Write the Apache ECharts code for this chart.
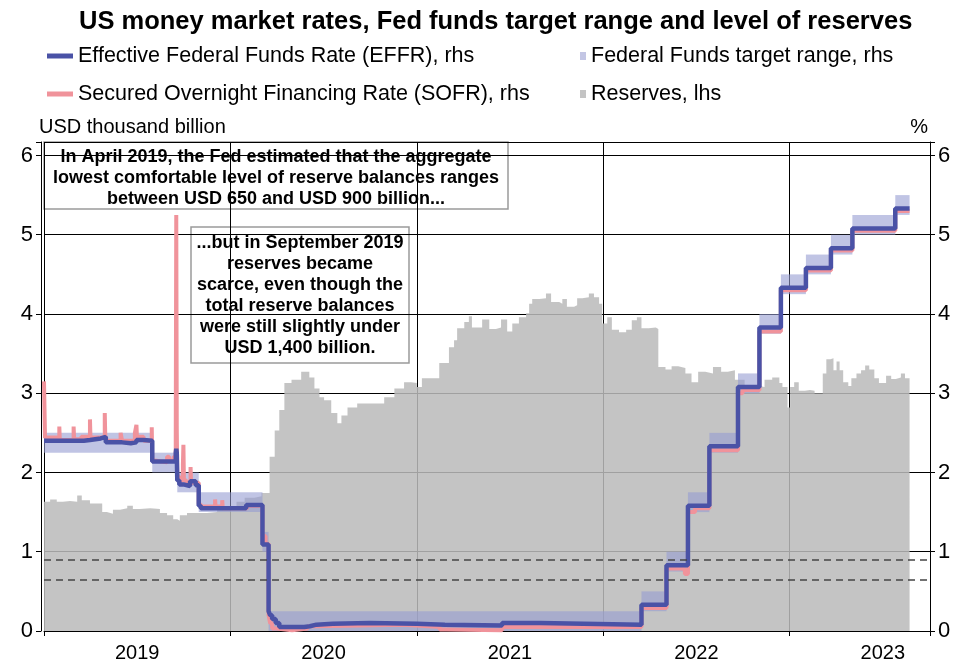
<!DOCTYPE html>
<html>
<head>
<meta charset="utf-8">
<script src="https://cdn.jsdelivr.net/npm/echarts@6/dist/echarts.min.js"></script>
<style>
  html, body { margin: 0; padding: 0; background: #fff; }
  #chart { width: 957px; height: 666px; }
</style>
</head>
<body>
<div id="chart"></div>
<script>
// reserves, USD thousand billion (weekly-ish readings)
var reserveDates = [
  "2019-01-01", "2019-01-13", "2019-01-26", "2019-02-07", "2019-02-21", "2019-03-07", "2019-03-16",
  "2019-04-01", "2019-04-15", "2019-04-25", "2019-05-04", "2019-05-16", "2019-05-30", "2019-06-13",
  "2019-06-24", "2019-07-08", "2019-07-28", "2019-08-16", "2019-08-30", "2019-09-11", "2019-09-19",
  "2019-09-24", "2019-10-08", "2019-10-20", "2019-11-03", "2019-11-16", "2019-12-06", "2019-12-26",
  "2020-01-13", "2020-01-29", "2020-02-17", "2020-03-02", "2020-03-18", "2020-03-28", "2020-04-06",
  "2020-04-16", "2020-04-30", "2020-05-19", "2020-06-04", "2020-06-14", "2020-06-24", "2020-07-03",
  "2020-07-17", "2020-07-29", "2020-08-06", "2020-08-18", "2020-09-06", "2020-09-20", "2020-10-09",
  "2020-10-29", "2020-11-18", "2020-12-07", "2020-12-21", "2021-01-01", "2021-01-11", "2021-01-30",
  "2021-02-14", "2021-02-27", "2021-03-05", "2021-03-15", "2021-03-21", "2021-04-04", "2021-04-13",
  "2021-04-19", "2021-04-29", "2021-05-09", "2021-05-23", "2021-06-05", "2021-06-15", "2021-06-27",
  "2021-07-07", "2021-07-20", "2021-08-03", "2021-08-09", "2021-08-15", "2021-08-29", "2021-09-11",
  "2021-09-21", "2021-10-07", "2021-10-13", "2021-10-22", "2021-11-05", "2021-11-11", "2021-11-21",
  "2021-12-04", "2021-12-14", "2021-12-24", "2021-12-30", "2022-01-09", "2022-01-18", "2022-02-01",
  "2022-02-15", "2022-02-26", "2022-03-08", "2022-03-17", "2022-03-31", "2022-04-14", "2022-04-19",
  "2022-05-03", "2022-05-15", "2022-05-28", "2022-06-11", "2022-06-23", "2022-07-06", "2022-07-20",
  "2022-08-04", "2022-08-20", "2022-09-02", "2022-09-16", "2022-10-05", "2022-10-25", "2022-11-13",
  "2022-11-28", "2022-12-12", "2022-12-18", "2022-12-28", "2023-01-02", "2023-01-10", "2023-01-19",
  "2023-01-31", "2023-02-10", "2023-02-19", "2023-03-01", "2023-03-07", "2023-03-14", "2023-03-22",
  "2023-03-28", "2023-04-03", "2023-04-09", "2023-04-16", "2023-04-26", "2023-05-02", "2023-05-12",
  "2023-05-21", "2023-05-29", "2023-06-06", "2023-06-16", "2023-06-25", "2023-07-09", "2023-07-19",
  "2023-07-28", "2023-08-07", "2023-08-15", "2023-08-24"
];
var reserveValues = [
  1.63, 1.66, 1.63, 1.64, 1.63, 1.71, 1.65,
  1.61, 1.61, 1.50, 1.48, 1.53, 1.55, 1.58,
  1.54, 1.55, 1.54, 1.49, 1.46, 1.41, 1.39,
  1.46, 1.49, 1.49, 1.49, 1.50, 1.54, 1.57,
  1.63, 1.68, 1.70, 1.74, 2.20, 2.53, 2.79,
  3.13, 3.17, 3.27, 3.20, 3.06, 2.95, 2.91,
  2.75, 2.62, 2.72, 2.82, 2.87, 2.87, 2.87,
  2.95, 3.06, 3.14, 3.13, 3.08, 3.19, 3.19,
  3.38, 3.38, 3.58, 3.67, 3.82, 3.90, 3.97,
  3.83, 3.83, 3.93, 3.81, 3.83, 3.93, 3.78,
  3.88, 3.96, 4.01, 4.13, 4.19, 4.20, 4.26,
  4.15, 4.13, 4.19, 4.09, 4.11, 4.20, 4.21,
  4.26, 4.21, 4.13, 3.88, 3.96, 3.80, 3.77,
  3.80, 3.92, 3.96, 3.82, 3.83, 3.81, 3.33,
  3.30, 3.34, 3.32, 3.25, 3.14, 3.27, 3.25,
  3.33, 3.27, 3.29, 3.17, 3.10, 3.08, 3.17,
  3.20, 3.13, 3.08, 2.82, 3.08, 3.14, 3.03,
  3.04, 3.03, 3.00, 3.00, 3.25, 3.43, 3.44,
  3.29, 3.40, 3.29, 3.14, 3.09, 3.19, 3.25,
  3.29, 3.35, 3.30, 3.19, 3.13, 3.22, 3.18,
  3.20, 3.25, 3.19, 3.19
];

// effective federal funds rate, % (change points)
var effrDates = [
  "2019-01-01", "2019-03-20", "2019-04-01", "2019-04-22", "2019-05-02", "2019-06-03", "2019-06-20",
  "2019-07-01", "2019-07-15", "2019-08-01", "2019-09-16", "2019-09-17", "2019-09-18", "2019-09-19",
  "2019-09-23", "2019-10-01", "2019-10-04", "2019-10-14", "2019-10-25", "2019-10-31", "2019-11-04",
  "2020-02-01", "2020-03-04", "2020-03-16", "2020-03-19", "2020-03-23", "2020-03-30", "2020-04-06",
  "2020-05-25", "2020-06-05", "2020-06-18", "2020-07-20", "2020-10-01", "2021-01-01", "2021-02-25",
  "2021-06-17", "2021-08-30", "2022-03-17", "2022-05-05", "2022-06-16", "2022-07-28", "2022-09-22",
  "2022-11-03", "2022-12-15", "2023-02-02", "2023-03-23", "2023-05-04", "2023-07-27", "2023-08-24"
];
var effrValues = [
  2.40, 2.41, 2.43, 2.45, 2.38, 2.37, 2.38,
  2.41, 2.40, 2.14, 2.25, 2.30, 2.25, 1.90,
  1.85, 1.83, 1.83, 1.89, 1.84, 1.58, 1.55,
  1.59, 1.09, 0.25, 0.20, 0.15, 0.10, 0.05,
  0.06, 0.08, 0.09, 0.10, 0.09, 0.08, 0.07,
  0.10, 0.08, 0.33, 0.83, 1.58, 2.33, 3.08,
  3.83, 4.33, 4.58, 4.83, 5.08, 5.33, 5.33
];

// secured overnight financing rate, % (change points and spikes)
var sofrDates = [
  "2019-01-01", "2019-01-03", "2019-01-31", "2019-02-01", "2019-02-28", "2019-03-01", "2019-03-15",
  "2019-04-01", "2019-04-02", "2019-04-30", "2019-05-01", "2019-05-03", "2019-05-31", "2019-06-03",
  "2019-06-28", "2019-07-01", "2019-07-02", "2019-07-15", "2019-07-31", "2019-08-01", "2019-08-05",
  "2019-08-30", "2019-09-03", "2019-09-12", "2019-09-16", "2019-09-17", "2019-09-18", "2019-09-19",
  "2019-09-23", "2019-09-30", "2019-10-01", "2019-10-02", "2019-10-07", "2019-10-15", "2019-10-16",
  "2019-10-31", "2019-11-04", "2019-12-02", "2019-12-03", "2019-12-16", "2019-12-17", "2020-02-03",
  "2020-03-04", "2020-03-10", "2020-03-16", "2020-03-19", "2020-03-23", "2020-04-01", "2020-05-01",
  "2020-06-01", "2020-06-15", "2020-12-01", "2021-01-01", "2021-02-15", "2021-03-01", "2021-06-17",
  "2021-08-01", "2022-03-17", "2022-05-05", "2022-06-01", "2022-06-10", "2022-06-16", "2022-06-30",
  "2022-07-28", "2022-09-22", "2022-10-01", "2022-11-03", "2022-12-15", "2023-02-02", "2023-03-23",
  "2023-05-04", "2023-07-27", "2023-08-24"
];
var sofrValues = [
  3.15, 2.44, 2.58, 2.41, 2.58, 2.42, 2.45,
  2.67, 2.44, 2.75, 2.45, 2.40, 2.50, 2.40,
  2.50, 2.60, 2.45, 2.40, 2.57, 2.15, 2.13,
  2.20, 2.15, 2.20, 2.43, 5.25, 2.55, 1.95,
  1.90, 2.10, 2.35, 1.90, 1.85, 2.07, 1.87,
  1.60, 1.57, 1.66, 1.57, 1.65, 1.55, 1.58,
  1.20, 1.10, 0.20, 0.10, 0.03, 0.01, 0.03,
  0.06, 0.08, 0.07, 0.05, 0.02, 0.01, 0.05,
  0.05, 0.29, 0.79, 0.78, 0.72, 1.50, 1.55,
  2.28, 3.00, 3.04, 3.78, 4.30, 4.55, 4.80,
  5.05, 5.30, 5.30
];

// fed funds target range, % (each range holds from one date to the next)
var targetDates = [
  "2019-01-01", "2019-08-01", "2019-09-19", "2019-10-31", "2020-03-04", "2020-03-16", "2022-03-17",
  "2022-05-05", "2022-06-16", "2022-07-28", "2022-09-22", "2022-11-03", "2022-12-15", "2023-02-02",
  "2023-03-23", "2023-05-04", "2023-07-27", "2023-08-24"
];
var targetLow = [2.25, 2.00, 1.75, 1.50, 1.00, 0.00, 0.25, 0.75, 1.50, 2.25, 3.00, 3.75, 4.25, 4.50, 4.75, 5.00, 5.25];
var targetHigh = [2.50, 2.25, 2.00, 1.75, 1.25, 0.25, 0.50, 1.00, 1.75, 2.50, 3.25, 4.00, 4.50, 4.75, 5.00, 5.25, 5.50];

// Fed estimate of lowest comfortable reserves (650 and 900 billion)
var reserveFloor = [0.9, 0.65];

var yearLabels = ["2019", "2020", "2021", "2022", "2023"];
var xStart = "2019-01-01";
var xEnd = "2023-10-03";

function toYear(s) {
  var d = new Date(s + "T00:00:00Z");
  var y = d.getUTCFullYear();
  var a = Date.UTC(y, 0, 1);
  var b = Date.UTC(y + 1, 0, 1);
  return y + (d.getTime() - a) / (b - a);
}

function pairs(dates, values) {
  var out = [];
  for (var i = 0; i < dates.length; i++) {
    out.push([toYear(dates[i]), values[i]]);
  }
  return out;
}

var bandData = [];
for (var i = 0; i < targetLow.length; i++) {
  bandData.push([toYear(targetDates[i]), toYear(targetDates[i + 1]), targetLow[i], targetHigh[i]]);
}

var FONT = "Liberation Sans, Arial, sans-serif";
var xMin = toYear(xStart);
var xMax = toYear(xEnd);
var yMax = 6.17;

var myChart = echarts.init(document.getElementById("chart"));

function intLabel(v) {
  return Math.abs(v - Math.round(v)) < 1e-6 ? String(Math.round(v)) : "";
}

function legendText() {
  return { fontSize: 21.5, color: "#000", fontFamily: FONT, padding: [0, 0, 0, 0] };
}

var option = {
  animation: false,
  backgroundColor: "#fff",
  textStyle: { fontFamily: FONT, color: "#000" },
  title: {
    text: "US money market rates, Fed funds target range and level of reserves",
    left: 74,
    top: 4,
    textStyle: { fontSize: 25.5, fontWeight: "bold", color: "#000", fontFamily: FONT }
  },
  legend: [
    {
      left: 47, top: 45, padding: 0, itemWidth: 26, itemHeight: 5, itemGap: 0,
      textStyle: legendText(),
      data: [{ name: "Effective Federal Funds Rate (EFFR), rhs", icon: "rect" }]
    },
    {
      left: 580, top: 45, padding: 0, itemWidth: 6, itemHeight: 8, itemGap: 0,
      textStyle: legendText(),
      data: [{ name: "Federal Funds target range, rhs", icon: "rect", itemStyle: { color: "#c3c6e4" } }]
    },
    {
      left: 47, top: 83, padding: 0, itemWidth: 26, itemHeight: 5, itemGap: 0,
      textStyle: legendText(),
      data: [{ name: "Secured Overnight Financing Rate (SOFR), rhs", icon: "rect" }]
    },
    {
      left: 580, top: 83, padding: 0, itemWidth: 6, itemHeight: 8, itemGap: 0,
      textStyle: legendText(),
      data: [{ name: "Reserves, lhs", icon: "rect", itemStyle: { color: "#c4c4c4" } }]
    }
  ],
  grid: { left: 44, right: 27, top: 142, bottom: 35, containLabel: false },
  xAxis: [
    {
      type: "value", min: xMin, max: xMax, interval: 1,
      axisLine: { show: true, lineStyle: { color: "#000", width: 1 } },
      axisTick: { show: true, length: 5, lineStyle: { color: "#000" } },
      axisLabel: { show: false },
      splitLine: { show: true, lineStyle: { color: "#000", width: 1 } }
    },
    {
      type: "value", min: xMin, max: xMax, interval: 0.5, position: "bottom",
      axisLine: { show: false }, axisTick: { show: false },
      splitLine: { show: false },
      axisLabel: {
        show: true, margin: 12, fontSize: 20, color: "#000", fontFamily: FONT,
        showMinLabel: true, showMaxLabel: true,
        formatter: function (v) {
          var f = v - Math.floor(v);
          if (Math.abs(f - 0.5) < 1e-6) {
            var idx = Math.floor(v) - 2019;
            return yearLabels[idx] || "";
          }
          return "";
        }
      }
    }
  ],
  yAxis: [
    {
      type: "value", min: 0, max: yMax, interval: 1, position: "left", offset: 3,
      name: "USD thousand billion", nameLocation: "end", nameGap: 5,
      nameTextStyle: { fontSize: 20, color: "#000", align: "left", fontFamily: FONT, padding: [0, 0, 0, -2] },
      axisLine: { show: true, lineStyle: { color: "#000", width: 1 } },
      axisTick: { show: true, length: 5, lineStyle: { color: "#000" } },
      axisLabel: { fontSize: 22, color: "#000", margin: 8, fontFamily: FONT, formatter: intLabel },
      splitLine: { show: true, lineStyle: { color: "#000", width: 1 } }
    },
    {
      type: "value", min: 0, max: yMax, interval: 1, position: "right",
      name: "%", nameLocation: "end", nameGap: 5,
      nameTextStyle: { fontSize: 20, color: "#000", align: "right", fontFamily: FONT, padding: [0, 2, 0, 0] },
      axisLine: { show: true, lineStyle: { color: "#000", width: 1 } },
      axisTick: { show: true, length: 5, lineStyle: { color: "#000" } },
      axisLabel: { fontSize: 22, color: "#000", margin: 8, fontFamily: FONT, formatter: intLabel },
      splitLine: { show: false }
    }
  ],
  series: [
    {
      name: "Reserves, lhs",
      type: "line",
      xAxisIndex: 0, yAxisIndex: 0,
      step: "end",
      symbol: "none",
      z: 1,
      itemStyle: { color: "#c4c4c4" },
      lineStyle: { width: 0 },
      areaStyle: { color: "rgba(186,186,186,0.86)", opacity: 1 },
      data: pairs(reserveDates, reserveValues),
      markLine: {
        silent: true,
        symbol: "none",
        label: { show: false },
        lineStyle: { color: "#444", width: 1.5, type: [7, 5] },
        data: reserveFloor.map(function (v) { return { yAxis: v }; })
      }
    },
    {
      name: "Federal Funds target range, rhs",
      type: "custom",
      xAxisIndex: 0, yAxisIndex: 1,
      z: 2,
      itemStyle: { color: "#c3c6e4" },
      encode: { x: [0, 1], y: [2, 3] },
      renderItem: function (params, api) {
        var p1 = api.coord([api.value(0), api.value(3)]);
        var p2 = api.coord([api.value(1), api.value(2)]);
        return {
          type: "rect",
          shape: { x: p1[0], y: p1[1], width: p2[0] - p1[0], height: p2[1] - p1[1] },
          style: { fill: "rgba(150,156,210,0.6)" }
        };
      },
      data: bandData
    },
    {
      name: "Secured Overnight Financing Rate (SOFR), rhs",
      type: "line",
      xAxisIndex: 0, yAxisIndex: 1,
      step: "end",
      symbol: "none",
      z: 3,
      itemStyle: { color: "#f0939b" },
      lineStyle: { color: "#f0939b", width: 4 },
      data: pairs(sofrDates, sofrValues)
    },
    {
      name: "Effective Federal Funds Rate (EFFR), rhs",
      type: "line",
      xAxisIndex: 0, yAxisIndex: 1,
      step: "end",
      symbol: "none",
      z: 4,
      itemStyle: { color: "#4a52a6" },
      lineStyle: { color: "#4a52a6", width: 4.5 },
      data: pairs(effrDates, effrValues)
    }
  ],
  graphic: [
    {
      type: "group", z: 100,
      children: [
        {
          type: "rect",
          shape: { x: 44, y: 142, width: 464, height: 67 },
          style: { fill: "#fff", stroke: "#9a9a9a", lineWidth: 1.5 }
        },
        {
          type: "text", x: 276, y: 178,
          style: {
            text: "In April 2019, the Fed estimated that the aggregate\nlowest comfortable level of reserve balances ranges\nbetween USD 650 and USD 900 billion...",
            font: "bold 18px " + FONT, fill: "#000", align: "center", verticalAlign: "middle", lineHeight: 21
          }
        }
      ]
    },
    {
      type: "group", z: 100,
      children: [
        {
          type: "rect",
          shape: { x: 191, y: 227, width: 218, height: 136 },
          style: { fill: "#fff", stroke: "#9a9a9a", lineWidth: 1.5 }
        },
        {
          type: "text", x: 300, y: 296,
          style: {
            text: "...but in September 2019\nreserves became\nscarce, even though the\ntotal reserve balances\nwere still slightly under\nUSD 1,400 billion.",
            font: "bold 18px " + FONT, fill: "#000", align: "center", verticalAlign: "middle", lineHeight: 21
          }
        }
      ]
    }
  ]
};

myChart.setOption(option);
</script>
</body>
</html>
